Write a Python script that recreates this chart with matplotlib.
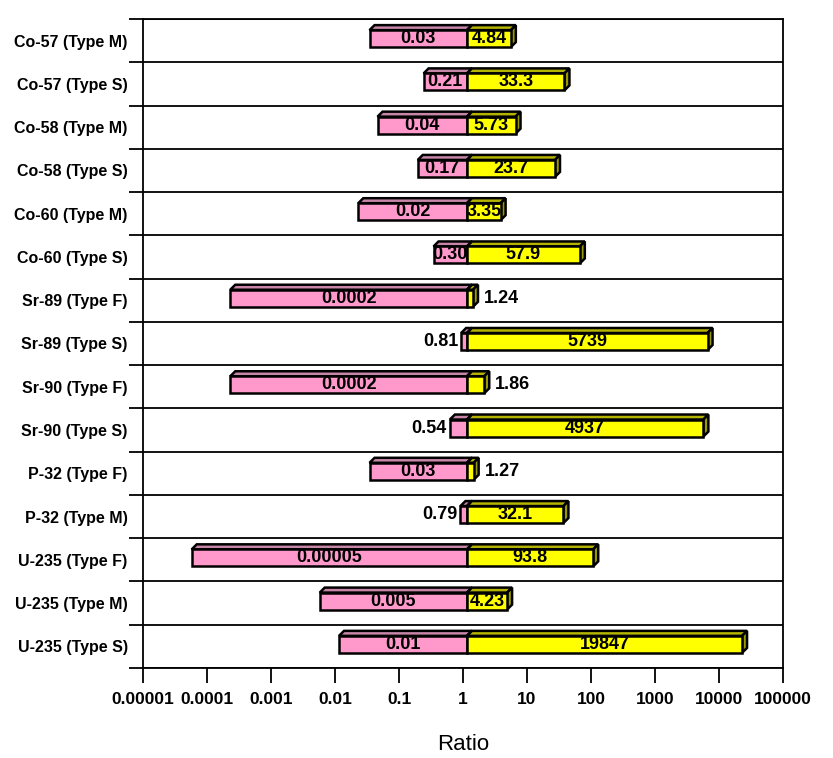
import numpy as np
import matplotlib.pyplot as plt
from matplotlib.patches import Polygon

plt.rcParams['font.family'] = ['Liberation Sans', 'DejaVu Sans']

# data (top to bottom)
rows = ['Co-57 (Type M)', 'Co-57 (Type S)', 'Co-58 (Type M)', 'Co-58 (Type S)',
        'Co-60 (Type M)', 'Co-60 (Type S)', 'Sr-89 (Type F)', 'Sr-89 (Type S)',
        'Sr-90 (Type F)', 'Sr-90 (Type S)', 'P-32 (Type F)', 'P-32 (Type M)',
        'U-235 (Type F)', 'U-235 (Type M)', 'U-235 (Type S)']
low = [0.03, 0.21, 0.04, 0.17, 0.02, 0.30, 0.0002, 0.81, 0.0002, 0.54,
       0.03, 0.79, 0.00005, 0.005, 0.01]
high = [4.84, 33.3, 5.73, 23.7, 3.35, 57.9, 1.24, 5739, 1.86, 4937,
        1.27, 32.1, 93.8, 4.23, 19847]
low_txt = ['0.03', '0.21', '0.04', '0.17', '0.02', '0.30', '0.0002', '0.81',
           '0.0002', '0.54', '0.03', '0.79', '0.00005', '0.005', '0.01']
high_txt = ['4.84', '33.3', '5.73', '23.7', '3.35', '57.9', '1.24', '5739',
            '1.86', '4937', '1.27', '32.1', '93.8', '4.23', '19847']
xticks = [1e-5, 1e-4, 1e-3, 1e-2, 1e-1, 1, 10, 100, 1000, 10000, 100000]
xtick_txt = ['0.00001', '0.0001', '0.001', '0.01', '0.1', '1', '10', '100',
             '1000', '10000', '100000']

W, H = 833, 758
fig = plt.figure(figsize=(W / 100, H / 100), dpi=100)
ax = fig.add_axes([143 / W, 1 - 668 / H, 640 / W, 649 / H])
ax.set_xscale('log')
ax.set_xlim(1e-5, 1e5)
ax.set_ylim(len(rows), 0)

# pixel helpers
decade_px = 640 / 10
row_px = 649 / len(rows)
def sx(x, px):
    return x * 10 ** (px / decade_px)

front_h = 17 / row_px
depth_x, depth_y = 5, 5
off = 4

def bar3d(x0, x1, yc, front, top, side):
    a, b = sx(x0, off), sx(x1, off)
    yt, yb = yc - front_h / 2, yc + front_h / 2
    dy = depth_y / row_px
    kw = dict(edgecolor='black', linewidth=1.8, zorder=3, joinstyle='miter')
    ax.add_patch(Polygon([(a, yt), (sx(a, depth_x), yt - dy),
                          (sx(b, depth_x), yt - dy), (b, yt)], facecolor=top, **kw))
    ax.add_patch(Polygon([(b, yb), (b, yt), (sx(b, depth_x), yt - dy),
                          (sx(b, depth_x), yb - dy)], facecolor=side, **kw))
    ax.add_patch(Polygon([(a, yb), (a, yt), (b, yt), (b, yb)], facecolor=front, **kw))
    return a, b

lab = dict(fontsize=13, fontweight='bold', va='center', zorder=5)
for i in range(len(rows)):
    yc = i + 0.5 - 2 / row_px
    a, b = bar3d(low[i], 1, yc, '#ff99cc', '#c785a8', '#b36b94')
    if low[i] > 0.4:
        ax.text(sx(a, -3), yc, low_txt[i], ha='right', **lab)
    else:
        ax.text(np.sqrt(a * b), yc, low_txt[i], ha='center', **lab)
    a, b = bar3d(1, high[i], yc, '#ffff00', '#b3b300', '#999900')
    if high[i] < 3:
        ax.text(sx(b, depth_x + 6), yc, high_txt[i], ha='left', **lab)
    else:
        ax.text(np.sqrt(a * b), yc, high_txt[i], ha='center', **lab)

# row separators
for k in range(len(rows) + 1):
    ax.axhline(k, color='black', lw=1.3, zorder=1)

ax.set_yticks(range(len(rows) + 1))
ax.set_yticklabels([])
ax.set_yticks(np.arange(len(rows)) + 0.5, minor=True)
ax.set_yticklabels(rows, minor=True, fontsize=11.5, fontweight='bold')
ax.tick_params(axis='y', which='major', length=10, width=1.3, direction='out')
ax.tick_params(axis='y', which='minor', length=0, pad=11)

ax.set_xticks(xticks)
ax.set_xticklabels(xtick_txt, fontsize=12.5, fontweight='bold')
ax.xaxis.set_minor_locator(plt.NullLocator())
ax.tick_params(axis='x', which='major', length=11, width=1.3, direction='out', pad=6)

for s in ax.spines.values():
    s.set_linewidth(1.3)

ax.set_xlabel('Ratio', fontsize=16, labelpad=20)

fig.savefig('out.png', dpi=100)
